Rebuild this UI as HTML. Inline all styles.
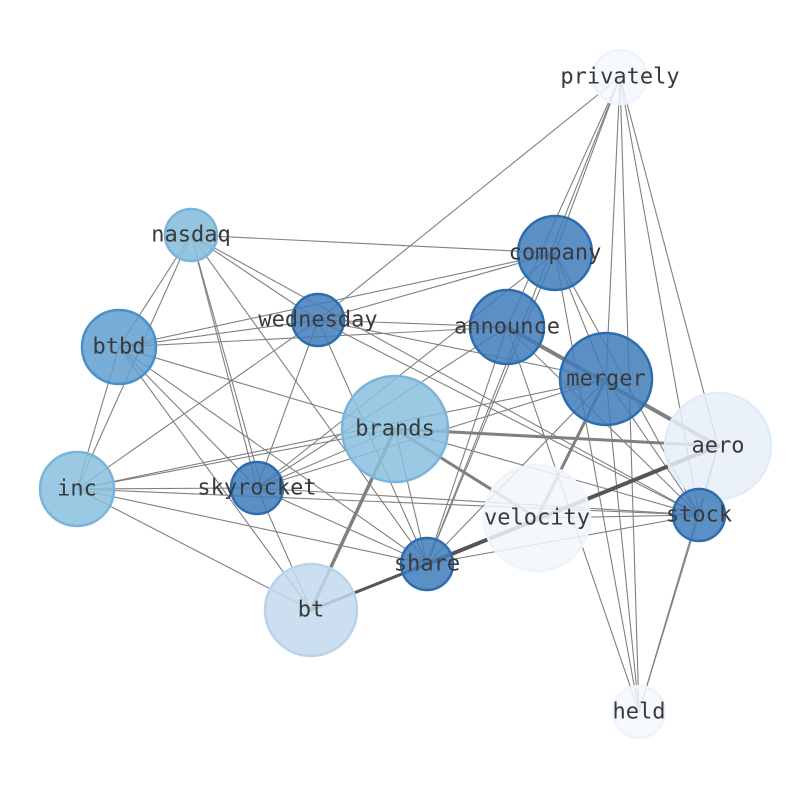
<!DOCTYPE html>
<html><head><meta charset="utf-8"><style>
html,body{margin:0;padding:0;background:#fff;}
svg{display:block;}
text{font-family:"DejaVu Sans Mono","Liberation Mono",monospace;font-size:22px;fill:#3a3a3a;text-anchor:middle;dominant-baseline:central;}
</style></head><body>
<svg width="794" height="790" viewBox="0 0 794 790">
<g stroke="#808080" stroke-width="1.1" fill="none">
<line x1="191" y1="235" x2="555" y2="253"/><line x1="191" y1="235" x2="318" y2="320"/><line x1="191" y1="235" x2="119" y2="347"/><line x1="191" y1="235" x2="77" y2="489"/><line x1="191" y1="235" x2="257" y2="488"/><line x1="191" y1="235" x2="262" y2="488"/><line x1="191" y1="235" x2="427" y2="564"/><line x1="191" y1="235" x2="699" y2="515"/>
<line x1="318" y1="320" x2="620" y2="77"/><line x1="318" y1="320" x2="555" y2="253"/><line x1="318" y1="320" x2="507" y2="327"/><line x1="318" y1="320" x2="119" y2="347"/><line x1="318" y1="320" x2="77" y2="489"/><line x1="318" y1="320" x2="257" y2="488"/><line x1="318" y1="320" x2="427" y2="564"/><line x1="318" y1="320" x2="606" y2="379"/><line x1="318" y1="320" x2="699" y2="515"/>
<line x1="119" y1="347" x2="555" y2="253"/><line x1="119" y1="347" x2="507" y2="327"/><line x1="119" y1="347" x2="257" y2="488"/><line x1="119" y1="347" x2="311" y2="610"/><line x1="119" y1="347" x2="427" y2="564"/><line x1="119" y1="347" x2="395" y2="429"/><line x1="119" y1="347" x2="77" y2="489"/>
<line x1="77" y1="489" x2="395" y2="429"/><line x1="77" y1="489" x2="606" y2="379"/><line x1="77" y1="489" x2="257" y2="488"/><line x1="77" y1="489" x2="427" y2="564"/><line x1="77" y1="489" x2="699" y2="515"/><line x1="77" y1="489" x2="311" y2="610"/>
<line x1="257" y1="488" x2="395" y2="429"/><line x1="257" y1="488" x2="507" y2="327"/><line x1="257" y1="488" x2="606" y2="379"/><line x1="257" y1="488" x2="555" y2="253"/><line x1="257" y1="488" x2="427" y2="564"/><line x1="257" y1="488" x2="311" y2="610"/>
<line x1="555" y1="253" x2="620" y2="77"/><line x1="555" y1="253" x2="699" y2="515"/><line x1="555" y1="253" x2="427" y2="564"/><line x1="555" y1="253" x2="639" y2="712"/><line x1="555" y1="253" x2="606" y2="379"/>
<line x1="507" y1="327" x2="427" y2="564"/><line x1="507" y1="327" x2="639" y2="712"/><line x1="507" y1="327" x2="699" y2="515"/>
<line x1="620" y1="77" x2="507" y2="327"/><line x1="620" y1="77" x2="606" y2="379"/><line x1="620" y1="77" x2="699" y2="515"/><line x1="620" y1="77" x2="639" y2="712"/><line x1="620" y1="77" x2="718" y2="446"/><line x1="620" y1="77" x2="427" y2="564"/>
<line x1="606" y1="379" x2="699" y2="515"/><line x1="606" y1="379" x2="427" y2="564"/><line x1="606" y1="379" x2="639" y2="712"/>
<line x1="699" y1="515" x2="639" y2="712"/><line x1="699" y1="515" x2="537" y2="518"/><line x1="699" y1="515" x2="427" y2="564"/><line x1="699" y1="515" x2="257" y2="488"/>
<line x1="718" y1="446" x2="639" y2="712"/><line x1="718" y1="446" x2="699" y2="515"/>
<line x1="395" y1="429" x2="427" y2="564"/><line x1="395" y1="429" x2="699" y2="515"/>
</g>
<g fill="none" stroke-linecap="round">
<line x1="507" y1="327" x2="718" y2="446" stroke="#808080" stroke-width="4"/>
<line x1="395" y1="429" x2="311" y2="610" stroke="#808080" stroke-width="3.5"/>
<line x1="395" y1="429" x2="718" y2="446" stroke="#808080" stroke-width="3"/>
<line x1="395" y1="429" x2="537" y2="518" stroke="#808080" stroke-width="3"/>
<line x1="606" y1="379" x2="537" y2="518" stroke="#808080" stroke-width="3"/>
<line x1="427" y1="564" x2="311" y2="610" stroke="#555" stroke-width="3"/>
<line x1="427" y1="564" x2="718" y2="446" stroke="#555" stroke-width="4"/>
</g>
<g stroke-width="2.5">
<circle cx="620" cy="77" r="27" fill="#f4f8fd" stroke="#eef4fb" fill-opacity="0.85"/>
<circle cx="191" cy="235" r="26" fill="#89bfde" stroke="#7bb4da" fill-opacity="0.9"/>
<circle cx="555" cy="253" r="37" fill="#3f7dbb" stroke="#2c6daf" fill-opacity="0.85"/>
<circle cx="318" cy="320" r="26" fill="#3f7dbb" stroke="#2c6daf" fill-opacity="0.85"/>
<circle cx="119" cy="347" r="37" fill="#5f9fcf" stroke="#4a90c8" fill-opacity="0.85"/>
<circle cx="507" cy="327" r="37" fill="#3f7dbb" stroke="#2c6daf" fill-opacity="0.85"/>
<circle cx="606" cy="379" r="46" fill="#3f7dbb" stroke="#2c6daf" fill-opacity="0.85"/>
<circle cx="395" cy="429" r="53" fill="#89bfde" stroke="#7bb4da" fill-opacity="0.85"/>
<circle cx="718" cy="446" r="53" fill="#e6eff9" stroke="#e2ecf8" fill-opacity="0.85"/>
<circle cx="77" cy="489" r="37" fill="#89bfde" stroke="#7bb4da" fill-opacity="0.85"/>
<circle cx="257" cy="488" r="26" fill="#3f7dbb" stroke="#2c6daf" fill-opacity="0.85"/>
<circle cx="537" cy="518" r="53" fill="#f2f7fd" stroke="#eef4fb" fill-opacity="0.85"/>
<circle cx="699" cy="515" r="26" fill="#3f7dbb" stroke="#2c6daf" fill-opacity="0.85"/>
<circle cx="427" cy="564" r="26" fill="#3f7dbb" stroke="#2c6daf" fill-opacity="0.85"/>
<circle cx="311" cy="610" r="46" fill="#c3d9ee" stroke="#b9d3eb" fill-opacity="0.85"/>
<circle cx="639" cy="712" r="26" fill="#f4f8fd" stroke="#eef4fb" fill-opacity="0.85"/>
</g>
<text x="620" y="77">privately</text>
<text x="191" y="235">nasdaq</text>
<text x="555" y="253">company</text>
<text x="318" y="320">wednesday</text>
<text x="119" y="347">btbd</text>
<text x="507" y="327">announce</text>
<text x="606" y="379">merger</text>
<text x="395" y="429">brands</text>
<text x="718" y="446">aero</text>
<text x="77" y="489">inc</text>
<text x="257" y="488">skyrocket</text>
<text x="537" y="518">velocity</text>
<text x="699" y="515">stock</text>
<text x="427" y="564">share</text>
<text x="311" y="610">bt</text>
<text x="639" y="712">held</text>
</svg>
</body></html>
